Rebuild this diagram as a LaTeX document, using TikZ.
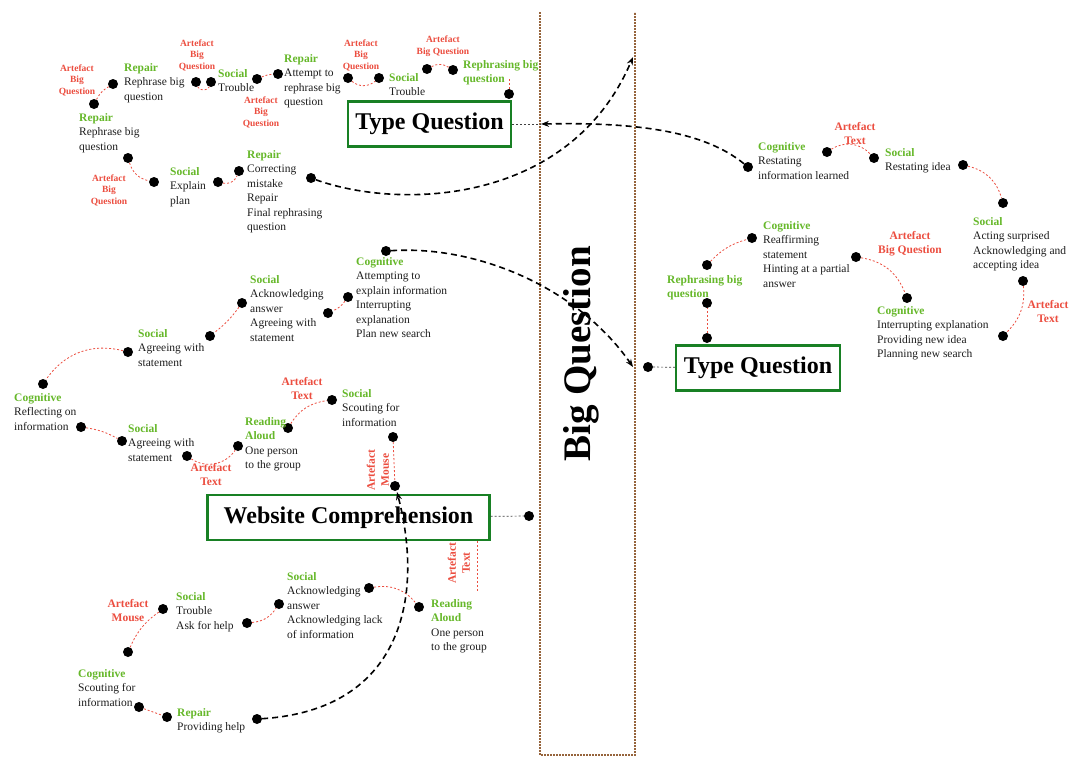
\documentclass[tikz,border=0pt]{standalone}
\usepackage{fontspec}
\setmainfont{Liberation Serif}
\usetikzlibrary{arrows.meta}
\usepackage{xcolor}
\definecolor{actgreen}{RGB}{102,184,42}
\definecolor{artred}{RGB}{236,78,64}
\definecolor{boxgreen}{RGB}{24,128,36}
\definecolor{colbrown}{RGB}{150,100,60}
\definecolor{txtdark}{RGB}{30,30,30}
\newcommand{\acttag}[1]{\textcolor{actgreen}{\bfseries #1}}

\begin{document}
\begin{tikzpicture}[x=1pt,y=1pt,>=Stealth]

% canvas
\useasboundingbox (0,0) rectangle (1069,-758);
\fill[white] (0,0) rectangle (1069,-758);

\tikzset{
  dot/.style={circle,fill=black,inner sep=0pt,minimum size=10pt},
  act/.style={anchor=north west,align=left,inner sep=0pt,text=txtdark,
    font=\fontsize{11.5}{14.5}\selectfont},
  art/.style={align=center,inner sep=0pt,text=artred,
    font=\bfseries\fontsize{11.5}{14}\selectfont},
  artsmall/.style={art,font=\bfseries\fontsize{9.5}{11.5}\selectfont},
  phase/.style={draw=boxgreen,line width=2.4pt,fill=white,inner sep=0pt,
    minimum height=45pt,font=\bfseries\fontsize{24}{26}\selectfont},
  link/.style={draw=artred,line width=0.8pt,dash pattern=on 2pt off 2pt},
  tie/.style={draw=black!75,line width=0.7pt,dash pattern=on 2pt off 2pt},
  jump/.style={draw=black,line width=1.6pt,dash pattern=on 6pt off 4pt,
    -{Stealth[length=8pt,width=6pt]}},
  column/.style={draw=colbrown,line width=2.6pt,dash pattern=on 2pt off 1pt}
}

% big question column
\draw[column] (540,-12) -- (540,-755) -- (635,-755) -- (635,-12);
\node[rotate=90,font=\bfseries\fontsize{39}{41}\selectfont] (bq) at (581,-354) {Big Question};

% phase boxes
\node[phase,minimum width=163pt] (tq1) at (429.5,-124) {Type Question};
\node[phase,minimum width=164pt] (tq2) at (758,-368) {Type Question};
\node[phase,minimum width=282pt] (wc) at (348.5,-517.5) {Website Comprehension};

% dots
\foreach \n/\x/\y in {a1/94/104,a2/113/84,a3/196/82,a4/211/82,a5/257/79,a6/278/74,
  a7/348/78,a8/379/78,a9/427/69,a10/453/70,a11/509/94,
  b1/128/158,b2/154/182,b3/218/182,b4/239/171,b5/311/178,
  c1/748/167,c2/827/152,c3/874/158,c4/963/165,c5/1003/203,c6/1023/281,c7/1003/336,
  d0/648/367,d1/707/338,d2/707/303,d3/707/265,d4/752/238,d5/856/257,d6/907/298,
  e1/386/251,e2/348/297,e3/328/313,e4/242/303,e5/210/336,e6/128/352,e7/43/384,
  e8/81/427,e9/122/441,e10/187/456,e11/238/446,e12/288/428,e13/332/400,
  e14/393/437,e15/395/486,e16/529/516,
  f1/128/652,f2/163/609,f3/247/623,f4/279/604,f5/369/588,f6/419/607,
  f7/139/707,f8/167/717,f9/257/719}{
  \node[dot] (\n) at (\x,-\y) {};
}

% activity labels
\node[act] (lA1) at (79,-113) {\acttag{Repair}\\Rephrase big\\question};
\node[act] (lA2) at (124,-63) {\acttag{Repair}\\Rephrase big\\question};
\node[act] (lA3) at (218,-69) {\acttag{Social}\\Trouble};
\node[act] (lA4) at (284,-54) {\acttag{Repair}\\Attempt to\\rephrase big\\question};
\node[act] (lA5) at (389,-73) {\acttag{Social}\\Trouble};
\node[act] (lA6) at (463,-60) {\acttag{Rephrasing big}\\\acttag{question}};
\node[act] (lB1) at (170,-167) {\acttag{Social}\\Explain\\plan};
\node[act] (lB2) at (247,-150) {\acttag{Repair}\\Correcting\\mistake\\Repair\\Final rephrasing\\question};
\node[act] (lC1) at (758,-142) {\acttag{Cognitive}\\Restating\\information learned};
\node[act] (lC2) at (885,-148) {\acttag{Social}\\Restating idea};
\node[act] (lC3) at (973,-217) {\acttag{Social}\\Acting surprised\\Acknowledging and\\accepting idea};
\node[act] (lD1) at (667,-275) {\acttag{Rephrasing big}\\\acttag{question}};
\node[act] (lD2) at (763,-221) {\acttag{Cognitive}\\Reaffirming\\statement\\Hinting at a partial\\answer};
\node[act] (lD3) at (877,-306) {\acttag{Cognitive}\\Interrupting explanation\\Providing new idea\\Planning new search};
\node[act] (lE1) at (356,-257) {\acttag{Cognitive}\\Attempting to\\explain information\\Interrupting\\explanation\\Plan new search};
\node[act] (lE2) at (250,-275) {\acttag{Social}\\Acknowledging\\answer\\Agreeing with\\statement};
\node[act] (lE3) at (138,-329) {\acttag{Social}\\Agreeing with\\statement};
\node[act] (lE4) at (14,-393) {\acttag{Cognitive}\\Reflecting on\\information};
\node[act] (lE5) at (128,-424) {\acttag{Social}\\Agreeing with\\statement};
\node[act] (lE6) at (245,-417) {\acttag{Reading}\\\acttag{Aloud}\\One person\\to the group};
\node[act] (lE7) at (342,-389) {\acttag{Social}\\Scouting for\\information};
\node[act] (lF1) at (176,-592) {\acttag{Social}\\Trouble\\Ask for help};
\node[act] (lF2) at (287,-572) {\acttag{Social}\\Acknowledging\\answer\\Acknowledging lack\\of information};
\node[act] (lF3) at (431,-599) {\acttag{Reading}\\\acttag{Aloud}\\One person\\to the group};
\node[act] (lF4) at (78,-669) {\acttag{Cognitive}\\Scouting for\\information};
\node[act] (lF5) at (177,-708) {\acttag{Repair}\\Providing help};

% artefact labels
\node[artsmall] (tA1) at (77,-80) {Artefact\\Big\\Question};
\node[artsmall] (tA2) at (197,-55) {Artefact\\Big\\Question};
\node[artsmall] (tA3) at (261,-112) {Artefact\\Big\\Question};
\node[artsmall] (tA4) at (361,-55) {Artefact\\Big\\Question};
\node[artsmall] (tA5) at (443,-46) {Artefact\\Big Question};
\node[artsmall] (tB1) at (109,-190) {Artefact\\Big\\Question};
\node[art] (tC1) at (855,-134) {Artefact\\Text};
\node[art] (tC2) at (1048,-312) {Artefact\\Text};
\node[art] (tD1) at (910,-244) {Artefact\\Big Question};
\node[art] (tE1) at (211,-475) {Artefact\\Text};
\node[art] (tE2) at (302,-389) {Artefact\\Text};
\node[art,rotate=90] (tE3) at (378,-470) {Artefact\\Mouse};
\node[art] (tF1) at (128,-611) {Artefact\\Mouse};
\node[art,rotate=90] (tF2) at (459,-563) {Artefact\\Text};

% free ends
\coordinate (a11top) at (509,-79);
\coordinate (tF2end) at (477,-592);
\coordinate (bqtop) at (633,-57);
\coordinate (tq1in) at (541,-124);
\coordinate (tq2in) at (633,-367);
\coordinate (wcin) at (397,-492);

% artefact links
\draw[link] (a1) to[bend left=15] (a2);
\draw[link] (a3) to[bend right=70] (a4);
\draw[link] (a5) to[bend left=10] (a6);
\draw[link] (a7) to[bend right=40] (a8);
\draw[link] (a9) to[bend left=30] (a10);
\draw[link] (a11) -- (a11top);
\draw[link] (b1) to[bend right=30] (b2);
\draw[link] (b3) to[bend right=40] (b4);
\draw[link] (c2) to[bend left=40] (c3);
\draw[link] (c4) to[bend left=30] (c5);
\draw[link] (c6) to[bend left=25] (c7);
\draw[link] (d1) -- (d2);
\draw[link] (d3) to[bend left=15] (d4);
\draw[link] (d5) to[bend left=30] (d6);
\draw[link] (e2) to[bend left=15] (e3);
\draw[link] (e4) to[bend left=8] (e5);
\draw[link] (e6) to[bend right=35] (e7);
\draw[link] (e8) to[bend left=10] (e9);
\draw[link] (e10) to[bend right=45] (e11);
\draw[link] (e12) to[bend left=25] (e13);
\draw[link] (e14) -- (e15);
\draw[link] (f1) to[bend left=15] (f2);
\draw[link] (f3) to[bend right=25] (f4);
\draw[link] (f5) to[bend left=30] (f6);
\draw[link] (f7) -- (f8);
\draw[link] (tF2end |- wc.south) -- (tF2end);

% box ties
\draw[tie] (tq1.east |- tq1in) -- (tq1in);
\draw[tie] (d0) -- (tq2);
\draw[tie] (wc) -- (e16);

% jumps across the column
\draw[jump] (b5) .. controls (400,-210) and (570,-205) .. (bqtop);
\draw[jump] (c1) .. controls (705,-132) and (640,-122) .. (tq1in);
\draw[jump] (e1) .. controls (480,-245) and (580,-290) .. (tq2in);
\draw[jump] (f9) .. controls (400,-710) and (425,-600) .. (wcin);

\end{tikzpicture}
\end{document}
